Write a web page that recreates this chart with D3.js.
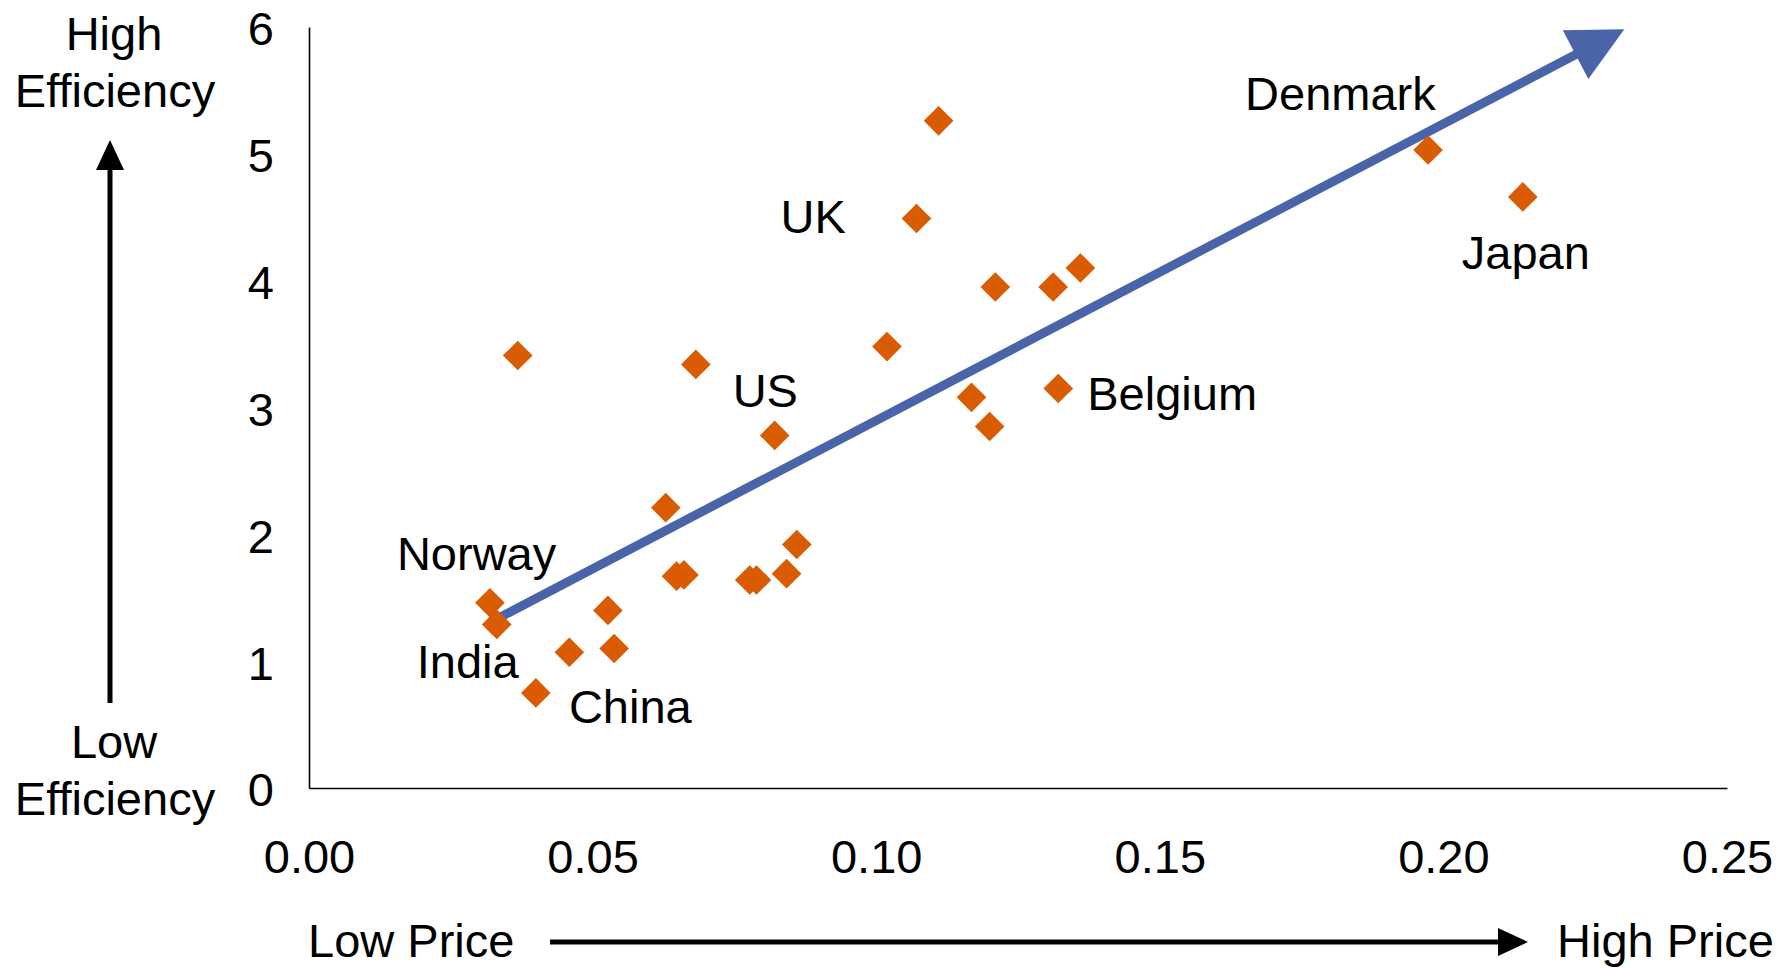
<!DOCTYPE html>
<html>
<head>
<meta charset="utf-8">
<script src="https://cdn.jsdelivr.net/npm/d3@7"></script>
<style>
  html, body { margin: 0; padding: 0; background: #fff; }
  svg { display: block; font-family: "Liberation Sans", Arial, sans-serif; }
</style>
</head>
<body>
<svg id="chart" width="1792" height="968"></svg>
<script>
// electricity price (x) vs efficiency (y), one entry per country
const prices = [0.0368, 0.0319, 0.0331, 0.0400, 0.0459, 0.0527, 0.0538, 0.0629, 0.0648,
  0.0661, 0.0682, 0.0777, 0.0789, 0.0821, 0.0842, 0.0860, 0.1019, 0.1071, 0.1110,
  0.1168, 0.1200, 0.1210, 0.1312, 0.1321, 0.1360, 0.1973, 0.2140];
const efficiency = [3.41, 1.46, 1.29, 0.75, 1.07, 1.40, 1.10, 2.21, 1.67,
  1.68, 3.34, 1.64, 1.64, 2.78, 1.69, 1.92, 3.48, 4.49, 5.26,
  3.08, 2.85, 3.95, 3.95, 3.15, 4.10, 5.03, 4.66];
const countries = ["", "Norway", "India", "China", "", "", "", "", "",
  "", "", "", "", "US", "", "", "", "UK", "",
  "", "", "", "", "Belgium", "", "Denmark", "Japan"];

const xTicks = [0, 0.05, 0.10, 0.15, 0.20, 0.25];
const yTicks = [0, 1, 2, 3, 4, 5, 6];

// trend arrow, start and tip in data units
const trendArrow = [[0.0332, 1.335], [0.2319, 5.983]];

const points = prices.map((p, i) => ({ price: p, eff: efficiency[i], name: countries[i] }));

const svg = d3.select("#chart");
const fontSize = 47;

const x = d3.scaleLinear().domain([0, 0.25]).range([309, 1727]);
const y = d3.scaleLinear().domain([0, 6]).range([788, 27]);

// axes
const xAxis = svg.append("g")
  .attr("transform", `translate(0,${y(0)})`)
  .call(d3.axisBottom(x).tickValues(xTicks).tickFormat(d3.format(".2f"))
    .tickSize(0).tickPadding(52));
const yAxis = svg.append("g")
  .attr("transform", `translate(${x(0)},0)`)
  .call(d3.axisLeft(y).tickValues(yTicks).tickFormat(d3.format("d"))
    .tickSize(0).tickPadding(35));

[xAxis, yAxis].forEach(g => {
  g.select(".domain").attr("stroke", "#000").attr("stroke-width", 1.6);
  g.selectAll(".tick text")
    .attr("fill", "#000")
    .attr("font-size", fontSize)
    .attr("font-family", "Liberation Sans, Arial, sans-serif");
});
yAxis.selectAll(".tick text").attr("dy", "0.38em");

// label offsets from each point (px): left edge / baseline
const labelOffset = {
  Norway: [-93, -33], India: [-80, 54], China: [33, 30], US: [-42, -28],
  UK: [-136, 14], Belgium: [29, 22], Denmark: [-183, -40], Japan: [-61, 72]
};

// trend arrow
const [a0, a1] = trendArrow.map(d => [x(d[0]), y(d[1])]);
const ang = Math.atan2(a1[1] - a0[1], a1[0] - a0[0]);
const headLen = 55, headHalf = 27.5;
const base = [a1[0] - headLen * Math.cos(ang), a1[1] - headLen * Math.sin(ang)];
const blue = "#4a64a9";

svg.append("line")
  .attr("x1", a0[0]).attr("y1", a0[1])
  .attr("x2", base[0] + 4 * Math.cos(ang)).attr("y2", base[1] + 4 * Math.sin(ang))
  .attr("stroke", blue).attr("stroke-width", 9);
svg.append("path")
  .attr("d", d3.line()([
    a1,
    [base[0] - headHalf * Math.sin(ang), base[1] + headHalf * Math.cos(ang)],
    [base[0] + headHalf * Math.sin(ang), base[1] - headHalf * Math.cos(ang)]
  ]) + "Z")
  .attr("fill", blue);

// diamonds
svg.append("g")
  .selectAll("path")
  .data(points)
  .join("path")
  .attr("d", d3.symbol(d3.symbolSquare, 440))
  .attr("transform", d => `translate(${x(d.price)},${y(d.eff)}) rotate(45)`)
  .attr("fill", "#d95c02");

// country labels
svg.append("g")
  .selectAll("text")
  .data(points.filter(d => d.name))
  .join("text")
  .attr("x", d => x(d.price) + labelOffset[d.name][0])
  .attr("y", d => y(d.eff) + labelOffset[d.name][1])
  .attr("font-size", fontSize)
  .attr("fill", "#000")
  .text(d => d.name);

// side titles
const titles = [
  { t: "High", x: 114, y: 50, a: "middle" },
  { t: "Efficiency", x: 115, y: 107, a: "middle" },
  { t: "Low", x: 114, y: 758, a: "middle" },
  { t: "Efficiency", x: 115, y: 815, a: "middle" },
  { t: "Low Price", x: 308, y: 957, a: "start" },
  { t: "High Price", x: 1557, y: 957, a: "start" }
];
svg.append("g")
  .selectAll("text")
  .data(titles)
  .join("text")
  .attr("x", d => d.x).attr("y", d => d.y)
  .attr("text-anchor", d => d.a)
  .attr("font-size", fontSize)
  .attr("fill", "#000")
  .text(d => d.t);

// black direction arrows
function blackArrow(x1, y1, x2, y2) {
  const an = Math.atan2(y2 - y1, x2 - x1);
  const len = 30, half = 14;
  const bx = x2 - len * Math.cos(an), by = y2 - len * Math.sin(an);
  svg.append("line")
    .attr("x1", x1).attr("y1", y1)
    .attr("x2", bx + 2 * Math.cos(an)).attr("y2", by + 2 * Math.sin(an))
    .attr("stroke", "#000").attr("stroke-width", 5);
  svg.append("path")
    .attr("d", d3.line()([
      [x2, y2],
      [bx - half * Math.sin(an), by + half * Math.cos(an)],
      [bx + half * Math.sin(an), by - half * Math.cos(an)]
    ]) + "Z")
    .attr("fill", "#000");
}
blackArrow(110, 703, 110, 140);
blackArrow(550, 942, 1528, 942);
</script>
</body>
</html>
